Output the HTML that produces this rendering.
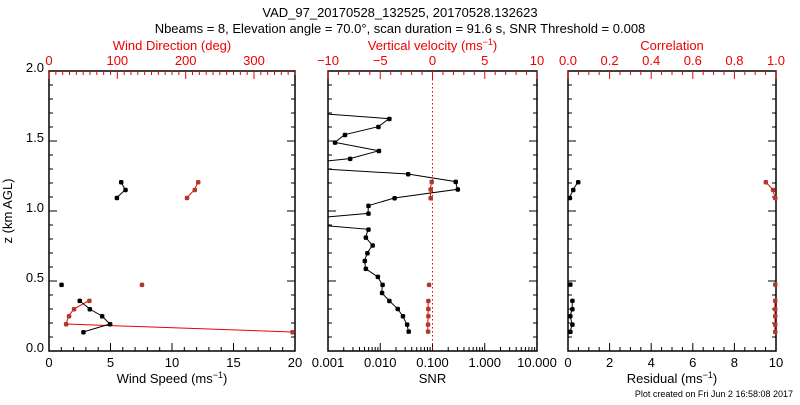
<!DOCTYPE html>
<html><head><meta charset="utf-8"><style>
body{margin:0;background:#fff}
svg text{font-family:"Liberation Sans",sans-serif;font-size:13px}
</style></head><body>
<svg id="c" width="800" height="400" xmlns="http://www.w3.org/2000/svg">
<text x="400" y="17" text-anchor="middle">VAD_97_20170528_132525, 20170528.132623</text>
<text x="400" y="33" text-anchor="middle">Nbeams = 8, Elevation angle = 70.0°, scan duration = 91.6 s, SNR Threshold = 0.008</text>
<text x="793" y="397" text-anchor="end" style="font-size:9px">Plot created on Fri Jun  2 16:58:08 2017</text>
</svg>
<script>
// heights (km)
const zWind=[1.207,1.152,1.095,null,0.474,null,0.36,0.30,0.25,0.193,0.136];
const windSpeed=[5.85,6.2,5.5,null,1.0,null,2.48,3.3,4.3,4.95,2.78];
const windDir=[218,213,201.6,null,135.7,null,58.7,36.3,29,24.7,356];
const zSnr=[1.72,1.659,1.602,1.545,1.49,1.43,1.374,1.32,1.264,1.21,1.155,1.093,1.038,0.983,0.926,0.869,0.812,0.755,0.70,0.645,0.588,0.531,0.474,0.416,0.359,0.302,0.25,0.19,0.14];
const snrLog=[-4,-1.83,-2.04,-2.68,-2.87,-2.03,-2.58,-4,-1.47,-0.56,-0.52,-1.73,-2.23,-2.23,-4,-2.23,-2.28,-2.15,-2.25,-2.30,-2.28,-2.05,-1.96,-1.97,-1.83,-1.67,-1.57,-1.49,-1.46];
const zW=[1.21,1.155,1.093,null,0.474,null,0.359,0.302,0.25,0.19,0.14];
const wVel=[-0.1,-0.2,-0.2,null,-0.35,null,-0.42,-0.42,-0.42,-0.45,-0.45];
const zRes=[1.207,1.152,1.095,null,0.476,null,0.36,0.30,0.25,0.19,0.138];
const residual=[0.48,0.24,0.08,null,0.1,null,0.2,0.2,0.1,0.2,0.1];
const corr=[0.95,0.985,0.995,null,0.995,null,0.995,0.995,0.995,0.995,0.995];

const S=document.getElementById('c'),NS='http://www.w3.org/2000/svg';
function el(t,a,p){const e=document.createElementNS(NS,t);for(const k in a)e.setAttribute(k,a[k]);(p||S).appendChild(e);return e;}
const T=71,B=351;
const Y=z=>B-(z/2)*(B-T);
function lin(a,b,x0,x1){return v=>x0+(v-a)/(b-a)*(x1-x0);}
const P=[{l:49,r:295},{l:328,r:537},{l:568,r:776}];
P.forEach((p,i)=>{const r=el('rect',{x:p.l,y:T,width:p.r-p.l,height:B-T,fill:'none',stroke:'#000','stroke-width':1.5});
});
// y ticks
P.forEach(p=>{for(let k=0;k<=20;k++){const y=Y(k/10),L=k%5==0?8:4;
el('line',{x1:p.l,x2:p.l+L,y1:y,y2:y,stroke:'#000'});el('line',{x1:p.r,x2:p.r-L,y1:y,y2:y,stroke:'#000'});}});
for(let k=0;k<=4;k++){const t=el('text',{x:44,y:Y(k*0.5)+1,'text-anchor':'end'});t.textContent=(k*0.5).toFixed(1);
}
const yt=el('text',{x:12,y:211,'text-anchor':'middle',transform:'rotate(-90 12 211)'});yt.textContent='z (km AGL)';

function axis(p,f,lo,hi,minor,major,labels,col,top,title,name,fmt){
  const y=top?T:B,d=top?1:-1;
  for(let v=lo;v<=hi+1e-9;v+=minor){const x=f(v),m=Math.abs(v/major-Math.round(v/major))<1e-6;
    el('line',{x1:x,x2:x,y1:y,y2:y+d*(m?8:4),stroke:col});}
  labels.forEach(v=>{const t=el('text',{x:f(v),y:top?T-6:B+16,'text-anchor':'middle',fill:col});t.textContent=fmt?fmt(v):v;
    });
  const t=el('text',{x:(p.l+p.r)/2,y:top?T-21:B+32,'text-anchor':'middle',fill:col});t.innerHTML=title;
  }
const fs=lin(0,20,P[0].l,P[0].r),fd=lin(0,360,P[0].l,P[0].r);
const fsn=v=>P[1].l+(v+3)/4*(P[1].r-P[1].l),fw=lin(-10,10,P[1].l,P[1].r);
const fr=lin(0,10,P[2].l,P[2].r),fc=lin(0,1,P[2].l,P[2].r);
axis(P[0],fs,0,20,1,5,[0,5,10,15,20],'#000',false,'Wind Speed (ms<tspan dy="-5" font-size="9">−1</tspan><tspan dy="5">)</tspan>','wind-speed-axis');
axis(P[0],fd,0,360,10,100,[0,100,200,300],'#e00',true,'Wind Direction (deg)','wind-direction-axis');
axis(P[1],fw,-10,10,1,5,[-10,-5,0,5,10],'#e00',true,'Vertical velocity (ms<tspan dy="-5" font-size="9">−1</tspan><tspan dy="5">)</tspan>','vertical-velocity-axis',v=>v<0?'−'+(-v):v);
// log axis
for(let dd=-3;dd<1;dd++)for(let m=1;m<10;m++){const x=fsn(dd+Math.log10(m));el('line',{x1:x,x2:x,y1:B,y2:B-(m==1?8:4),stroke:'#000'});}
el('line',{x1:P[1].r,x2:P[1].r,y1:B,y2:B-8,stroke:'#000'});
['0.001','0.010','0.100','1.000','10.000'].forEach((s,i)=>{const t=el('text',{x:fsn(i-3),y:B+16,'text-anchor':'middle'});t.textContent=s;
});
{const t=el('text',{x:(P[1].l+P[1].r)/2,y:B+32,'text-anchor':'middle'});t.textContent='SNR';}
axis(P[2],fr,0,10,0.5,2,[0,2,4,6,8,10],'#000',false,'Residual (ms<tspan dy="-5" font-size="9">−1</tspan><tspan dy="5">)</tspan>','residual-axis');
axis(P[2],fc,0,1,0.05,0.2,[0,0.2,0.4,0.6,0.8,1],'#e00',true,'Correlation','correlation-axis',v=>v.toFixed(1));
el('line',{x1:fw(0),x2:fw(0),y1:T,y2:B,stroke:'#e00','stroke-dasharray':'1.5 2.5'});
// clip for panel 2
const cp=el('clipPath',{id:'cp2'});el('rect',{x:P[1].l,y:T,width:P[1].r-P[1].l,height:B-T},cp);
function series(zs,vs,fx,lc,mc,name,clip){
  let d='',pen=false;
  zs.forEach((z,i)=>{if(z===null||vs[i]===null){pen=false;return;}d+=(pen?'L':'M')+fx(vs[i]).toFixed(1)+','+Y(z).toFixed(1);pen=true;});
  const g=el('g',clip?{'clip-path':'url(#cp2)'}:{});
  el('path',{d:d,fill:'none',stroke:lc,'stroke-width':1},g);
  zs.forEach((z,i)=>{if(z===null||vs[i]===null)return;const c=el('rect',{x:fx(vs[i])-2,y:Y(z)-2,width:4.5,height:4.5,rx:1.5,fill:mc},g);
    });
}
series(zWind,windDir,fd,'#e00','#b03a2a','wind-direction-series');
series(zWind,windSpeed,fs,'#000','#000','wind-speed-series');
series(zSnr,snrLog,fsn,'#000','#000','snr-series',true);
series(zW,wVel,fw,'#e00','#b03a2a','vertical-velocity-series');
series(zRes,corr,fc,'#e00','#b03a2a','correlation-series');
series(zRes,residual,fr,'#000','#000','residual-series');
</script>
</body></html>
